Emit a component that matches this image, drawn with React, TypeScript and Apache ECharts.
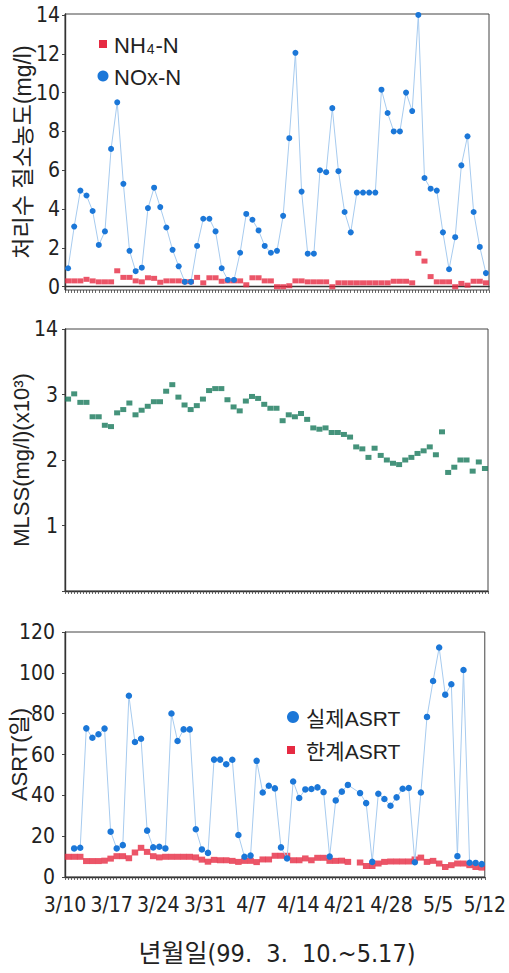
import React, { useEffect, useRef } from 'react';
import * as echarts from 'echarts';

// ---- categories (days 1999-03-10 .. 1999-05-17) ----
const days = [
  '3/10', '3/11', '3/12', '3/13', '3/14', '3/15', '3/16', '3/17', '3/18', '3/19', '3/20', '3/21', '3/22', '3/23',
  '3/24', '3/25', '3/26', '3/27', '3/28', '3/29', '3/30', '3/31',
  '4/1', '4/2', '4/3', '4/4', '4/5', '4/6', '4/7', '4/8', '4/9', '4/10', '4/11', '4/12', '4/13', '4/14', '4/15',
  '4/16', '4/17', '4/18', '4/19', '4/20', '4/21', '4/22', '4/23', '4/24', '4/25', '4/26', '4/27', '4/28', '4/29', '4/30',
  '5/1', '5/2', '5/3', '5/4', '5/5', '5/6', '5/7', '5/8', '5/9', '5/10', '5/11', '5/12', '5/13', '5/14', '5/15', '5/16', '5/17',
];

const dateTickLabels = ['3/10', '3/17', '3/24', '3/31', '4/7', '4/14', '4/21', '4/28', '5/5', '5/12'];
const nitrogenTicks = [0, 2, 4, 6, 8, 10, 12, 14];

// ---- panel 1: effluent nitrogen (mg/l) ----
const nh4 = [
  0.3, 0.3, 0.3, 0.38, 0.3, 0.25, 0.25, 0.25, 0.82, 0.48,
  0.48, 0.3, 0.25, 0.46, 0.43, 0.23, 0.3, 0.3, 0.3, 0.26,
  0.26, 0.48, 0.2, 0.46, 0.46, 0.28, 0.3, 0.3, 0.3, 0.1,
  0.46, 0.46, 0.3, 0.3, 0.0, 0.0, 0.05, 0.3, 0.3, 0.25,
  0.25, 0.25, 0.25, 0.0, 0.2, 0.2, 0.2, 0.2, 0.2, 0.2,
  0.2, 0.2, 0.2, 0.28, 0.28, 0.28, 0.2, 1.72, 1.32, 0.52,
  0.25, 0.25, 0.25, 0.0, 0.17, 0.08, 0.28, 0.28, 0.2,
];
const nox = [
  0.95, 3.1, 4.95, 4.7, 3.9, 2.15, 2.85, 7.1, 9.5, 5.3,
  1.85, 0.8, 0.98, 4.05, 5.1, 4.1, 3.05, 1.9, 1.05, 0.25,
  0.25, 2.1, 3.5, 3.5, 2.85, 0.95, 0.35, 0.35, 1.75, 3.75,
  3.45, 2.9, 2.1, 1.75, 1.85, 3.65, 7.65, 12.05, 4.9, 1.7,
  1.7, 6.0, 5.9, 9.2, 5.95, 3.85, 2.8, 4.85, 4.85, 4.85,
  4.85, 10.15, 8.95, 8.0, 8.0, 10.0, 9.05, 14.0, 5.6, 5.05,
  4.95, 2.8, 0.9, 2.55, 6.25, 7.75, 3.85, 2.05, 0.7,
];

// ---- panel 2: MLSS (x10^3 mg/l) ----
const mlss = [
  2.93, 3.01, 2.88, 2.88, 2.66, 2.66, 2.53, 2.51, 2.72, 2.77,
  2.87, 2.69, 2.76, 2.82, 2.89, 2.89, 3.05, 3.15, 2.96, 2.84,
  2.77, 2.83, 2.93, 3.06, 3.09, 3.09, 2.92, 2.81, 2.75, 2.90,
  2.97, 2.94, 2.85, 2.79, 2.79, 2.60, 2.69, 2.66, 2.71, 2.62,
  2.49, 2.47, 2.49, 2.42, 2.42, 2.39, 2.35, 2.20, 2.17, 2.04,
  2.18, 2.07, 2.00, 1.95, 1.93, 2.00, 2.04, 2.10, 2.14, 2.20,
  2.08, 2.43, 1.81, 1.89, 2.00, 2.00, 1.83, 1.97, 1.87,
];

// ---- panel 3: ASRT (days) ----
const asrtActual = [
  null,
  14.0, 14.3, 72.8, 68.2, 69.9, 72.7, 22.2, 14.0, 15.6, 88.8,
  66.1, 67.7, 22.7, 14.5, 14.8, 14.0, 80.1, 66.6, 72.3, 72.3,
  23.4, 13.5, 11.8, 57.5, 57.5, 55.2, 57.4, 20.6, 9.9, 10.5,
  56.9, 41.4, 44.7, 43.4, 14.5, 9.1, 46.8, 38.7, 42.9, 43.1,
  43.9, 41.6, 10.0, 37.5, 41.8, 45.1, null, 41.1, 36.2, 7.4,
  40.8, 38.2, 34.9, 39.0, 43.2, 43.6, 7.2, 41.4, 78.4, 96.0,
  112.4, 89.3, 94.4, 10.2, 101.4, 7.0, 6.9, 6.3,
];
const asrtLimit = [
  9.9, 9.9, 9.9, 7.8, 7.8, 7.8, 8.0, 9.0, 10.2, 10.2,
  9.2, 12.0, 14.3, 12.3, 10.2, 9.6, 9.9, 9.9, 9.9, 9.9,
  9.9, 9.6, 8.5, 7.5, 8.4, 8.2, 8.2, 7.9, 7.4, 7.9,
  7.9, 7.3, 8.6, 8.6, 10.4, 10.4, 10.4, 8.2, 8.2, 9.1,
  8.2, 9.4, 9.4, 7.9, 7.9, 8.0, 7.4, null, 7.1, 5.4,
  5.4, 6.6, 7.4, 7.6, 7.6, 7.6, 7.6, 8.6, 9.5, 7.4,
  7.9, 6.6, 4.9, 5.8, 6.6, 6.6, 5.8, 4.9, 4.6,
];

const NARROW = "'Liberation Sans Narrow', 'Arial Narrow', 'DejaVu Sans Condensed', sans-serif";
const SANS = "'Liberation Sans', Arial, 'Noto Sans CJK KR', sans-serif";
const INK = '#222';
const BLUE = '#1b77d8';
const BLUE_LINE = '#a7cbef';
const RED = '#e62a42';
const GREEN = '#17785a';

function dayAxis(g: number) {
  return {
    type: 'category', gridIndex: g, position: 'bottom', data: days, boundaryGap: true,
    axisLine: { show: true, lineStyle: { color: '#333', width: 1.4 } },
    axisTick: { show: false }, axisLabel: { show: false }, splitLine: { show: false },
  };
}
function tickAxis(g: number) {
  return {
    type: 'value', gridIndex: g, position: 'bottom', min: 0, max: 138, interval: 1,
    axisLine: { show: false },
    axisTick: { show: true, length: 3, lineStyle: { color: '#444', width: 0.8 } },
    axisLabel: { show: false }, splitLine: { show: false },
  };
}

export default function App() {
  const ref = useRef<HTMLDivElement>(null);
  useEffect(() => {
    if (!ref.current) return;
    const chart = echarts.init(ref.current, undefined, { renderer: 'svg' });
    const gridBase = { show: true, borderColor: '#444', borderWidth: 1, backgroundColor: 'transparent' };
    const yAxisCommon = {
      type: 'value', position: 'left',
      axisLine: { show: true, lineStyle: { color: '#333', width: 1.4 } },
      axisTick: { show: true, length: 3, lineStyle: { color: '#444' } },
      splitLine: { show: false },
      nameLocation: 'middle',
      nameRotate: 90,
      nameMoveOverlap: false,
      nameTextStyle: { fontFamily: SANS, fontSize: 22, color: INK },
    };
    chart.setOption({
      animation: false,
      backgroundColor: '#fff',
      grid: [
        { ...gridBase, left: 65, top: 14, width: 424, height: 276 },
        { ...gridBase, left: 65, top: 329, width: 423, height: 262 },
        { ...gridBase, left: 64, top: 632, width: 423, height: 245 },
      ],
      xAxis: [
        dayAxis(0), tickAxis(0),
        dayAxis(1), tickAxis(1),
        dayAxis(2), tickAxis(2),
        {
          type: 'category', gridIndex: 2, position: 'bottom', data: dateTickLabels, boundaryGap: false,
          axisLine: { show: false }, axisTick: { show: false }, splitLine: { show: false },
          axisLabel: { interval: 0, fontFamily: NARROW, fontSize: 21, color: INK, margin: 17 },
        },
      ],
      yAxis: [
        {
          ...yAxisCommon, gridIndex: 0, min: -0.17, max: 14.05,
          axisTick: { show: true, length: 3, customValues: nitrogenTicks, lineStyle: { color: '#444' } },
          axisLabel: { customValues: nitrogenTicks, fontFamily: NARROW, fontSize: 21, color: INK, margin: 5 },
          name: '처리수 질소농도(mg/l)', nameGap: 31,
          nameTextStyle: { fontFamily: SANS, fontSize: 23, color: INK },
        },
        {
          ...yAxisCommon, gridIndex: 1, min: 0, max: 4, interval: 1,
          axisLabel: {
            fontFamily: NARROW, fontSize: 21, color: INK, margin: 7,
            formatter: (v: number) => (v === 0 ? '' : v === 4 ? '14' : String(v)),
          },
          name: 'MLSS(mg/l)(x10³)', nameGap: 33,
        },
        {
          ...yAxisCommon, gridIndex: 2, min: 0, max: 120, interval: 20,
          axisLabel: { fontFamily: NARROW, fontSize: 21, color: INK, margin: 10 },
          name: 'ASRT(일)', nameGap: 35,
        },
      ],
      series: [
        {
          name: 'NH4-N', type: 'scatter', xAxisIndex: 0, yAxisIndex: 0, data: nh4,
          symbol: 'rect', symbolSize: [6, 5], itemStyle: { color: RED }, z: 2,
        },
        {
          name: 'NOx-N', type: 'line', xAxisIndex: 0, yAxisIndex: 0, data: nox,
          symbol: 'circle', symbolSize: 6, showSymbol: true, showAllSymbol: true,
          itemStyle: { color: BLUE }, lineStyle: { color: BLUE_LINE, width: 1 }, z: 3,
        },
        {
          name: 'MLSS', type: 'scatter', xAxisIndex: 2, yAxisIndex: 1, data: mlss,
          symbol: 'rect', symbolSize: [6, 5], itemStyle: { color: GREEN },
        },
        {
          name: '한계ASRT', type: 'scatter', xAxisIndex: 4, yAxisIndex: 2, data: asrtLimit,
          symbol: 'rect', symbolSize: [6.5, 6], itemStyle: { color: RED }, z: 2,
        },
        {
          name: '실제ASRT', type: 'line', xAxisIndex: 4, yAxisIndex: 2, data: asrtActual,
          connectNulls: true, symbol: 'circle', symbolSize: 6.5, showSymbol: true, showAllSymbol: true,
          itemStyle: { color: BLUE }, lineStyle: { color: BLUE_LINE, width: 1 }, z: 3,
        },
      ],
      graphic: [
        { type: 'rect', shape: { x: 99, y: 40, width: 8, height: 8 }, style: { fill: RED } },
        {
          type: 'text', x: 114, y: 45,
          style: {
            text: '{n|NH}{s|4}{n|-N}', verticalAlign: 'middle', fill: INK,
            rich: {
              n: { fontFamily: SANS, fontSize: 22, fill: INK },
              s: { fontFamily: SANS, fontSize: 14, fill: INK, verticalAlign: 'bottom', padding: [8, 1, 0, 1] },
            },
          },
        },
        { type: 'circle', shape: { cx: 103, cy: 76, r: 5.5 }, style: { fill: BLUE } },
        {
          type: 'text', x: 114, y: 77,
          style: { text: 'NOx-N', fontFamily: SANS, fontSize: 22, fill: INK, verticalAlign: 'middle' },
        },
        { type: 'circle', shape: { cx: 293, cy: 717, r: 6 }, style: { fill: BLUE } },
        {
          type: 'text', x: 306, y: 718,
          style: { text: '실제ASRT', fontFamily: SANS, fontSize: 21, fill: INK, verticalAlign: 'middle' },
        },
        { type: 'rect', shape: { x: 287, y: 746, width: 8, height: 8 }, style: { fill: RED } },
        {
          type: 'text', x: 306, y: 751,
          style: { text: '한계ASRT', fontFamily: SANS, fontSize: 21, fill: INK, verticalAlign: 'middle' },
        },
        {
          type: 'text', x: 277, y: 953,
          style: {
            text: '년월일(99.  3.  10.~5.17)', fontFamily: NARROW + ", 'Noto Sans CJK KR'", fontSize: 25,
            fill: INK, align: 'center', verticalAlign: 'middle',
          },
        },
      ],
    });
    return () => chart.dispose();
  }, []);
  return <div ref={ref} style={{ position: 'absolute', left: 0, top: 0, width: 509, height: 973, background: '#fff' }} />;
}
